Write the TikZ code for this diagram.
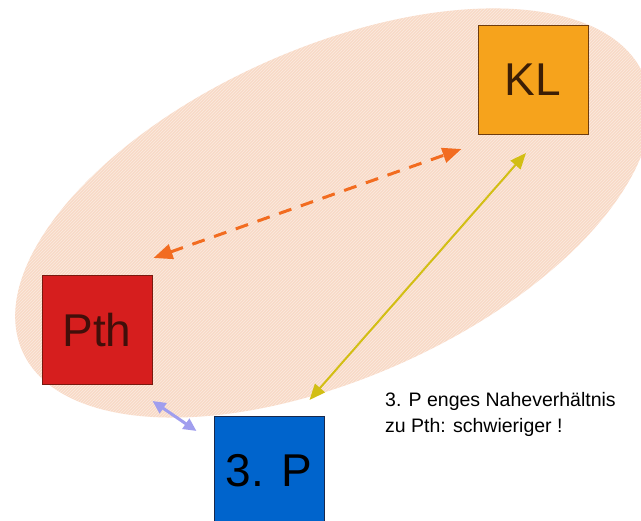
\documentclass[tikz,border=0pt]{standalone}
\usepackage{fontspec}
\newfontfamily\arialf{Liberation Sans}
\usetikzlibrary{arrows.meta,patterns}
\definecolor{ellfill}{RGB}{248,218,199}
\definecolor{klfill}{RGB}{246,163,28}
\definecolor{kldraw}{RGB}{110,60,15}
\definecolor{kltext}{RGB}{60,30,5}
\definecolor{pthfill}{RGB}{214,30,30}
\definecolor{pthdraw}{RGB}{120,25,15}
\definecolor{pthtext}{RGB}{65,15,10}
\definecolor{pfill}{RGB}{0,100,204}
\definecolor{pdraw}{RGB}{25,40,75}
\definecolor{orangeline}{RGB}{242,108,32}
\definecolor{yellowline}{RGB}{210,190,20}
\definecolor{lavline}{RGB}{160,158,238}
\tikzset{
  sqbox/.style={draw, line width=1pt, minimum width=110pt, minimum height=109pt, inner sep=0pt, font=\arialf\fontsize{46}{50}\selectfont},
  orangearrow/.style={draw=orangeline, line width=3pt, dash pattern=on 13pt off 10pt, {Triangle[length=19pt,width=15pt]}-{Triangle[length=19pt,width=15pt]}},
  yellowarrow/.style={draw=yellowline, line width=2pt, {Triangle[length=16pt,width=13pt]}-{Triangle[length=16pt,width=13pt]}},
  lavarrow/.style={draw=lavline, line width=3pt, {Triangle[length=13pt,width=12pt]}-{Triangle[length=13pt,width=12pt]}},
  note/.style={font=\arialf\fontsize{19.5}{26}\selectfont, align=left, inner sep=0pt, anchor=north west}
}
\begin{document}
\begin{tikzpicture}[x=1pt,y=1pt]
\useasboundingbox (0,0) rectangle (641,521);
\fill[ellfill, rotate around={24:(333,308)}] (333,308) ellipse [x radius=340, y radius=165];
\fill[pattern=north east lines, pattern color=white, opacity=0.45, rotate around={24:(333,308)}] (333,308) ellipse [x radius=340, y radius=165];
\node[sqbox, fill=klfill, draw=kldraw, text=kltext] (KL) at (533,441) {KL};
\node[sqbox, fill=pthfill, draw=pthdraw, text=pthtext] (Pth) at (97,191) {Pth};
\node[sqbox, fill=pfill, draw=pdraw, text=black] (P3) at (269,50) {3. P};
\draw[orangearrow] ([shift={(1,17)}]Pth.north east) -- ([shift={(-16,-14)}]KL.south west);
\draw[yellowarrow] ([shift={(-7,-18)}]KL.south) -- ([shift={(-15,16)}]P3.north east);
\draw[lavarrow] ([shift={(0,-16)}]Pth.south east) -- ([shift={(-17,-15)}]P3.north west);
\node[note] (txt) at (385,128.5) {3. P enges Naheverhältnis\\zu Pth: schwieriger !};
\end{tikzpicture}
\end{document}
